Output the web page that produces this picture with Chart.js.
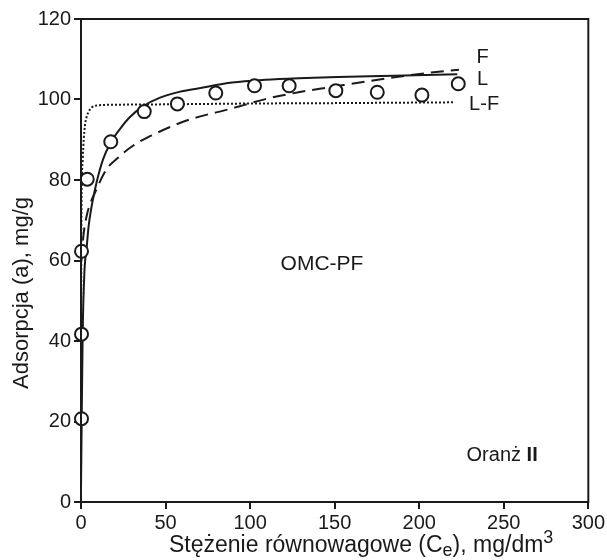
<!DOCTYPE html>
<html>
<head>
<meta charset="utf-8">
<script src="https://cdn.jsdelivr.net/npm/chart.js@4.4.1/dist/chart.umd.min.js"></script>
<style>
  html, body { margin: 0; padding: 0; background: #fff; }
  #wrap { width: 607px; height: 560px; }
</style>
</head>
<body>
<div id="wrap"><canvas id="isothermChart"></canvas></div>
<script>
// Measured points (Ce, a)
const pointsCe = [0.3, 0.3, 0.3, 3.7, 17.6, 37.4, 57, 79.7, 102.6, 123.1, 150.7, 175.2, 201.6, 223.1];
const pointsA = [20.7, 41.7, 62.3, 80.2, 89.5, 97.0, 98.9, 101.6, 103.4, 103.4, 102.2, 101.8, 101.1, 103.9];

// L - Langmuir fit (solid)
const langCe = [0, 0.4, 1, 2, 3.3, 4.5, 6.3, 9.2, 13.1, 17.6, 22.9, 28.8, 36.6, 46.4, 58.1, 69.9, 89.4, 109, 128.6, 152, 185, 222.5];
const langA = [3, 20, 42, 57, 63, 68.5, 73.5, 79.4, 85.2, 89.3, 92.6, 95.6, 98.3, 100.4, 101.9, 102.8, 104.2, 104.9, 105.3, 105.6, 105.9, 106.3];

// F - Freundlich fit (dashed)
const freuCe = [0.3, 1.4, 3.3, 9.2, 15.1, 21, 30.7, 41.5, 52.3, 64, 89.4, 109, 128.6, 148.2, 165.8, 185.4, 205, 223.5];
const freuA = [60, 66, 71, 77.7, 82.7, 85.2, 88.5, 91, 93.1, 95, 97.8, 100.1, 101.8, 103.1, 104.3, 105.5, 106.6, 107.4];

// L-F - Langmuir-Freundlich fit (dotted)
const lfCe = [0, 0.05, 0.15, 0.3, 1, 1.6, 2.3, 3.2, 4.3, 6.3, 9.2, 20, 50, 100, 150, 221];
const lfA = [0, 30, 60, 74, 85, 90, 93.5, 95.5, 96.8, 98, 98.5, 98.7, 98.8, 99, 99.1, 99.3];

const xTicks = [0, 50, 100, 150, 200, 250, 300];
const yTicks = [0, 20, 40, 60, 80, 100, 120];

const FONT = '"Liberation Sans", Arial, sans-serif';
const INK = '#1a1a1a';

function toXY(xs, ys) {
    return xs.map((x, i) => ({ x: x, y: ys[i] }));
}

// Frame, curve labels and axis titles (x title needs sub/superscript)
const extrasPlugin = {
    id: 'extras',
    afterDraw(chart) {
        const ctx = chart.ctx;
        const a = chart.chartArea;
        const xs = chart.scales.x;
        const ys = chart.scales.y;
        ctx.save();
        ctx.strokeStyle = INK;
        ctx.lineWidth = 2;
        ctx.strokeRect(a.left, a.top, a.right - a.left, a.bottom - a.top);

        ctx.fillStyle = INK;
        ctx.textBaseline = 'middle';
        ctx.font = '20px ' + FONT;
        ctx.textAlign = 'center';
        ctx.fillText('F', xs.getPixelForValue(237.5), ys.getPixelForValue(110.5));
        ctx.fillText('L', xs.getPixelForValue(237.5), ys.getPixelForValue(105));
        ctx.textAlign = 'left';
        ctx.fillText('L-F', xs.getPixelForValue(229.5), ys.getPixelForValue(98.8));
        ctx.textAlign = 'center';
        ctx.font = '21px ' + FONT;
        ctx.fillText('OMC-PF', xs.getPixelForValue(142.5), ys.getPixelForValue(59));

        // Oranż II with bold numeral
        ctx.textAlign = 'left';
        let ox = xs.getPixelForValue(228);
        const oy = ys.getPixelForValue(11.6);
        ctx.font = '20px ' + FONT;
        ctx.fillText('Oranż ', ox, oy);
        ox += ctx.measureText('Oranż ').width;
        ctx.font = 'bold 20px ' + FONT;
        ctx.fillText('II', ox, oy);

        // y axis title
        ctx.save();
        ctx.translate(22, 293);
        ctx.rotate(-Math.PI / 2);
        ctx.textAlign = 'center';
        ctx.font = '22px ' + FONT;
        ctx.fillText('Adsorpcja (a), mg/g', 0, 0);
        ctx.restore();

        // x axis title
        ctx.textAlign = 'left';
        ctx.textBaseline = 'alphabetic';
        const base = 552;
        let tx = 169;
        const parts = [
            { t: 'Stężenie równowagowe (C', size: 23, dy: 0 },
            { t: 'e', size: 18, dy: 4 },
            { t: '), mg/dm', size: 23, dy: 0 },
            { t: '3', size: 18, dy: -9 }
        ];
        parts.forEach(p => {
            ctx.font = p.size + 'px ' + FONT;
            ctx.fillText(p.t, tx, base + p.dy);
            tx += ctx.measureText(p.t).width;
        });
        ctx.restore();
    }
};

const ctx = document.getElementById('isothermChart');
new Chart(ctx, {
    type: 'scatter',
    data: {
        datasets: [
            {
                label: 'dane',
                data: toXY(pointsCe, pointsA),
                showLine: false,
                pointRadius: 6.5,
                pointBackgroundColor: '#ffffff',
                pointBorderColor: INK,
                pointBorderWidth: 2,
                clip: false,
                order: 0
            },
            {
                label: 'L',
                data: toXY(langCe, langA),
                showLine: true,
                borderColor: INK,
                borderWidth: 2,
                pointRadius: 0,
                cubicInterpolationMode: 'monotone',
                order: 1
            },
            {
                label: 'F',
                data: toXY(freuCe, freuA),
                showLine: true,
                borderColor: INK,
                borderWidth: 2,
                borderDash: [13, 7],
                pointRadius: 0,
                cubicInterpolationMode: 'monotone',
                order: 1
            },
            {
                label: 'L-F',
                data: toXY(lfCe, lfA),
                showLine: true,
                borderColor: INK,
                borderWidth: 2,
                borderDash: [2, 2],
                pointRadius: 0,
                cubicInterpolationMode: 'monotone',
                order: 1
            }
        ]
    },
    options: {
        responsive: true,
        maintainAspectRatio: false,
        animation: false,
        layout: {
            padding: { top: 19, right: 16, left: 0, bottom: 0 }
        },
        scales: {
            x: {
                type: 'linear',
                min: 0,
                max: 300,
                afterBuildTicks: scale => { scale.ticks = xTicks.map(v => ({ value: v })); },
                afterFit: scale => { scale.height = 58; },
                grid: {
                    drawOnChartArea: false,
                    color: INK,
                    lineWidth: 2,
                    tickLength: 7
                },
                border: { display: false },
                ticks: {
                    color: INK,
                    padding: 2,
                    maxRotation: 0,
                    font: { family: FONT, size: 20 }
                }
            },
            y: {
                type: 'linear',
                min: 0,
                max: 120,
                afterBuildTicks: scale => { scale.ticks = yTicks.map(v => ({ value: v })); },
                afterFit: scale => { scale.width = 81; },
                grid: {
                    drawOnChartArea: false,
                    color: INK,
                    lineWidth: 2,
                    tickLength: 7
                },
                border: { display: false },
                ticks: {
                    color: INK,
                    padding: 3,
                    font: { family: FONT, size: 20 }
                }
            }
        },
        plugins: {
            legend: { display: false },
            tooltip: { enabled: false }
        }
    },
    plugins: [extrasPlugin]
});
</script>
</body>
</html>
